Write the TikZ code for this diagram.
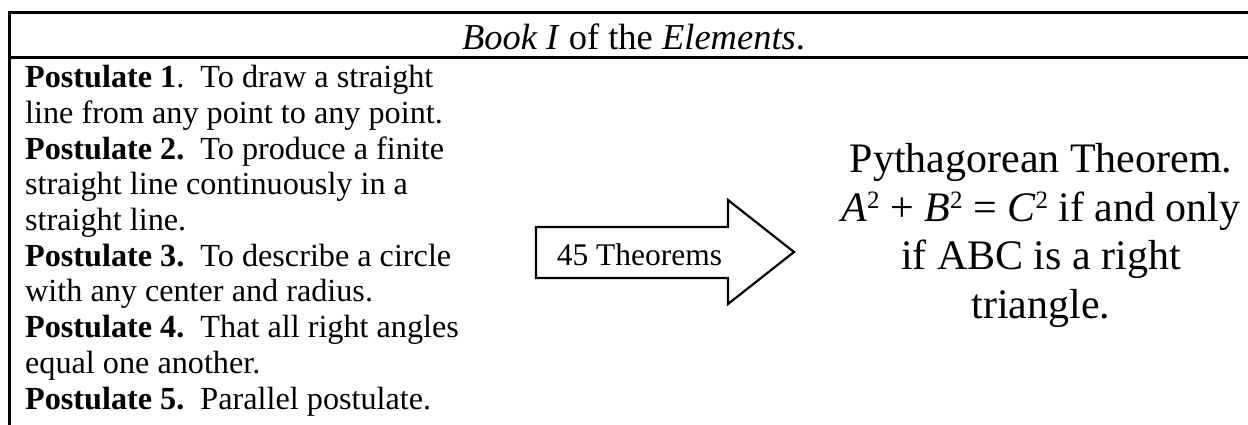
\documentclass[tikz,border=0pt]{standalone}
\usepackage{fontspec}
\setmainfont{Liberation Serif}
\newcommand{\sqsup}{\raisebox{12.5pt}{\fontsize{25}{25}\selectfont 2}}
\tikzset{
  frame/.style={line width=3pt, line cap=butt},
  arrowshape/.style={draw=black, line width=2.2pt, line join=miter, fill=white},
  smalltext/.style={font=\fontsize{32.2}{35.7}\selectfont, inner sep=0pt, align=left},
  bigtext/.style={font=\fontsize{42}{48.5}\selectfont, inner sep=0pt, align=center},
  titletext/.style={font=\fontsize{36.5}{40}\selectfont, inner sep=0pt},
}
\begin{document}
\begin{tikzpicture}[x=1pt, y=-1pt]
\useasboundingbox (0,0) rectangle (1248,424);
\begin{scope}
\clip (0,0) rectangle (1248,424);
\fill[white] (0,0) rectangle (1248,424);
% frame
\coordinate (tr) at (1260,12);
\coordinate (tl) at (9.5,12);
\coordinate (bl) at (9.5,440);
\coordinate (ml) at (9.5,57);
\coordinate (mr) at (1260,57);
\draw[frame] (tr) -- (tl) -- (bl);
\draw[frame] (ml) -- (mr);
\end{scope}
% title
\node[titletext, anchor=base] (title) at (633.5,49) {\textit{Book I} of the \textit{Elements}.};
% postulates (base anchor = baseline of the last line)
\node[smalltext, anchor=base west] (post) at (25,409) {%
\textbf{Postulate 1}.\ \ To draw a straight\\
line from any point to any point.\\
\textbf{Postulate 2.}\ \ To produce a finite\\
straight line continuously in a\\
straight line.\\
\textbf{Postulate 3.}\ \ To describe a circle\\
with any center and radius.\\
\textbf{Postulate 4.}\ \ That all right angles\\
equal one another.\\
\textbf{Postulate 5.}\ \ Parallel postulate.};
% arrow
\coordinate (a1) at (536,227);
\coordinate (a2) at (728,227);
\coordinate (a3) at (728,200);
\coordinate (a4) at (794,252);
\coordinate (a5) at (728,304);
\coordinate (a6) at (728,278);
\coordinate (a7) at (536,278);
\draw[arrowshape] (a1) -- (a2) -- (a3) -- (a4) -- (a5) -- (a6) -- (a7) -- cycle;
\node[font=\fontsize{31.5}{36}\selectfont, inner sep=0pt, anchor=base] (thm) at (639.5,265) {45 Theorems};
% result (base anchor = baseline of the last line)
\node[bigtext, anchor=base] (pyth) at (1041,318) {%
Pythagorean Theorem.\\
\textit{A}\sqsup{} + \textit{B}\sqsup{} = \textit{C}\sqsup{} if and only\\
if ABC is a right\\
triangle.};
\end{tikzpicture}
\end{document}
